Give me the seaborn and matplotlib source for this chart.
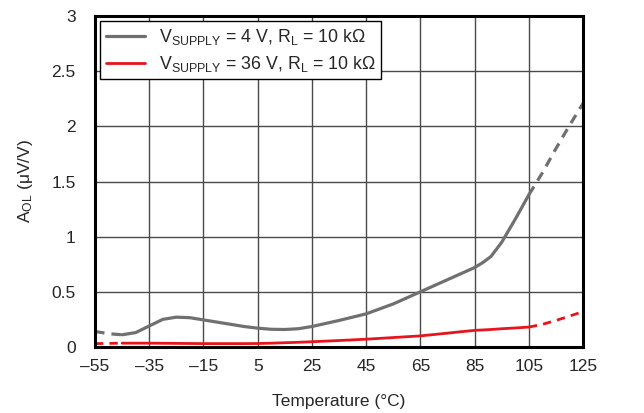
import matplotlib
matplotlib.use('Agg')
import matplotlib.pyplot as plt
import numpy as np
import pandas as pd
import seaborn as sns

# values
temps = [-55, -50, -45, -40, -35, -30, -25, -20, -15, -10, -5, 0, 5, 10, 15, 20, 25,
         35, 45, 55, 65, 75, 80, 85, 88, 91, 95, 100, 105, 110, 115, 120, 125]
aol_4v = [0.14, 0.12, 0.11, 0.13, 0.19, 0.25, 0.27, 0.265, 0.245, 0.225, 0.205, 0.185,
          0.17, 0.16, 0.158, 0.165, 0.185, 0.24, 0.30, 0.39, 0.50, 0.61, 0.665, 0.72,
          0.765, 0.82, 0.95, 1.16, 1.38, 1.58, 1.80, 2.01, 2.21]
aol_36v = [0.03, 0.032, 0.034, 0.034, 0.034, 0.033, 0.032, 0.031, 0.03, 0.03, 0.03, 0.03,
           0.031, 0.034, 0.038, 0.042, 0.047, 0.058, 0.07, 0.085, 0.10, 0.125, 0.138, 0.15,
           0.154, 0.158, 0.165, 0.172, 0.18, 0.205, 0.24, 0.28, 0.32]
measured_lo, measured_hi = -45, 105

labels = [r'V$_{\mathregular{SUPPLY}}$ = 4 V, R$_{\mathregular{L}}$ = 10 k$\Omega$',
          r'V$_{\mathregular{SUPPLY}}$ = 36 V, R$_{\mathregular{L}}$ = 10 k$\Omega$']
colors = ['#707070', '#e8141c']
widths = [2.3, 2.0]
xticks = list(range(-55, 126, 20))
xticklabels = [str(t).replace('-', '\u2013') for t in xticks]
yticks = [0, 0.5, 1, 1.5, 2, 2.5, 3]
yticklabels = ['0', '0.5', '1', '1.5', '2', '2.5', '3']

sns.set_style('white')
plt.rcParams['font.family'] = ['Liberation Sans', 'DejaVu Sans']
plt.rcParams['mathtext.fontset'] = 'custom'
plt.rcParams['mathtext.rm'] = 'Liberation Sans'
plt.rcParams['mathtext.it'] = 'Liberation Sans'

df = pd.DataFrame({'T': temps, '4V': aol_4v, '36V': aol_36v})

fig = plt.figure(figsize=(6.44, 4.13), dpi=100)
ax = fig.add_axes([0.1475, 0.16, 0.758, 0.801])

for col, lab, c, w in zip(['4V', '36V'], labels, colors, widths):
    solid = df[(df['T'] >= measured_lo) & (df['T'] <= measured_hi)]
    low = df[df['T'] <= measured_lo]
    high = df[df['T'] >= measured_hi]
    sns.lineplot(data=solid, x='T', y=col, ax=ax, color=c, linewidth=w, label=lab)
    for part in (low, high):
        sns.lineplot(data=part, x='T', y=col, ax=ax, color=c, linewidth=w,
                     linestyle=(0, (3, 2.2)), legend=False)

ax.set_xlim(-55, 125)
ax.set_ylim(0, 3)
ax.set_xticks(xticks)
ax.set_xticklabels(xticklabels)
ax.set_yticks(yticks)
ax.set_yticklabels(yticklabels)
ax.grid(True, color='#4a4a4a', linewidth=1.0)
ax.set_axisbelow(True)
for s in ax.spines.values():
    s.set_visible(True)
    s.set_color('black')
    s.set_linewidth(2.2)
ax.tick_params(axis='both', labelsize=12.5, length=0)
ax.tick_params(axis='x', pad=9)
ax.tick_params(axis='y', pad=14)
ax.set_xlabel('Temperature (\u00b0C)', fontsize=12.5, labelpad=14)
ax.set_ylabel(r'A$_{\mathregular{OL}}$ ($\mathregular{\mu}$V/V)', fontsize=12.5, labelpad=12)

leg = ax.legend(loc='upper left', fontsize=12.8, frameon=True, fancybox=False,
                edgecolor='black', framealpha=1, borderaxespad=0.3, handlelength=2.2,
                borderpad=0.3, labelspacing=0.4)
leg.get_frame().set_linewidth(1.0)

fig.savefig('out.png', dpi=100)
